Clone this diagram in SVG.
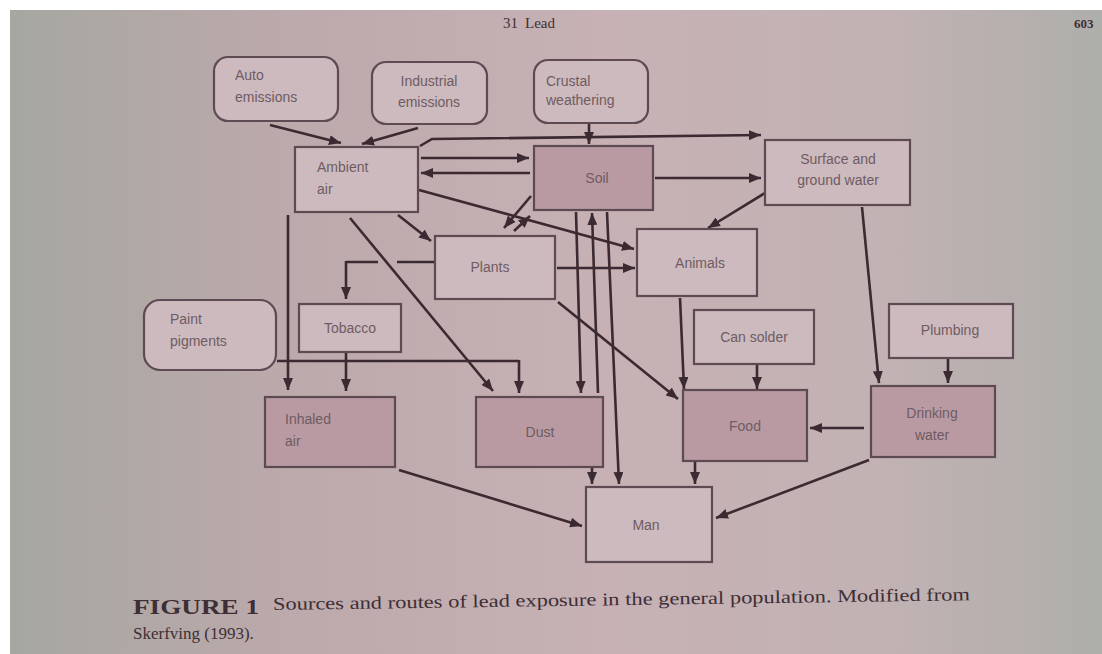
<svg xmlns="http://www.w3.org/2000/svg" width="1102" height="654" viewBox="0 0 1102 654">
<defs>
<linearGradient id="page" x1="0" y1="0" x2="1" y2="0">
<stop offset="0" stop-color="#a6a7a1"/>
<stop offset="0.25" stop-color="#bca9ab"/>
<stop offset="0.55" stop-color="#c7b1b5"/>
<stop offset="0.8" stop-color="#c2b2b3"/>
<stop offset="1" stop-color="#aeaeaa"/>
</linearGradient>
<marker id="ah" viewBox="0 0 12 10" refX="12" refY="5" markerWidth="12" markerHeight="10" markerUnits="userSpaceOnUse" orient="auto">
<path d="M0,0 L12,5 L0,10 Z" fill="#3b2a31"/>
</marker>
<style>
.box{fill:#cdbabe;stroke:#5e4a52;stroke-width:2.2}
.dark{fill:#b99aa2;stroke:#5e4a52;stroke-width:2.2}
.src{fill:#cdbabe;stroke:#5e4a52;stroke-width:2.2}
.lbl{font-family:"Liberation Sans",Arial,sans-serif;font-size:14px;fill:#6e5c63}
.ln{fill:none;stroke:#3b2a31;stroke-width:2.6}
.arr{fill:none;stroke:#3b2a31;stroke-width:2.6;marker-end:url(#ah)}
.cap{font-family:"Liberation Serif","Times New Roman",serif;fill:#3d2f35}
</style>
</defs>
<rect x="0" y="0" width="1102" height="654" fill="#ffffff"/>
<rect x="10" y="10" width="1092" height="644" fill="url(#page)"/>
<text class="cap" x="503" y="28" font-size="15">31</text>
<text class="cap" x="525" y="28" font-size="15">Lead</text>
<text class="cap" x="1074" y="28" font-size="13" font-weight="bold">603</text>

<g id="connectors">
<path class="arr" d="M270,125 L341,143"/>
<path class="arr" d="M418,128 L362,144"/>
<path class="arr" d="M589,123 L589,144"/>
<path class="arr" d="M420,146 L432,139 L761,135"/>
<path class="arr" d="M421,158 L529,158"/>
<path class="arr" d="M530,173 L421,173"/>
<path class="arr" d="M655,178 L761,178"/>
<path class="arr" d="M419,190 L634,249"/>
<path class="arr" d="M531,196 L504,228"/>
<path class="arr" d="M514,231 L530,216"/>
<path class="arr" d="M398,215 L431,241"/>
<path class="arr" d="M350,218 L493,391"/>
<path class="arr" d="M288,215 L288,390"/>
<path class="ln" d="M435,262 L397,262 M378,262 L346,262"/>
<path class="arr" d="M346,261 L346,299"/>
<path class="arr" d="M346,353 L346,391"/>
<path class="ln" d="M277,361 L519,361"/>
<path class="arr" d="M519,360 L519,393"/>
<path class="arr" d="M576,212 L581,393"/>
<path class="arr" d="M598,393 L592,213"/>
<path class="arr" d="M607,212 L619,484"/>
<path class="arr" d="M592,467 L592,484"/>
<path class="arr" d="M695,462 L695,484"/>
<path class="arr" d="M557,268 L635,268"/>
<path class="arr" d="M558,302 L678,399"/>
<path class="arr" d="M680,298 L684,389"/>
<path class="arr" d="M757,365 L757,389"/>
<path class="arr" d="M765,193 L708,228"/>
<path class="arr" d="M862,207 L879,383"/>
<path class="arr" d="M948,359 L948,383"/>
<path class="arr" d="M864,428 L810,428"/>
<path class="arr" d="M869,460 L716,518"/>
<path class="arr" d="M399,470 L582,526"/>
</g>

<g id="auto-emissions"><rect class="src" x="214" y="57" width="124" height="64" rx="14"/><text class="lbl" x="235" y="80">Auto</text><text class="lbl" x="235" y="102">emissions</text></g>
<g id="industrial-emissions"><rect class="src" x="372" y="62" width="115" height="62" rx="14"/><text class="lbl" x="429" y="86" text-anchor="middle">Industrial</text><text class="lbl" x="429" y="107" text-anchor="middle">emissions</text></g>
<g id="crustal-weathering"><rect class="src" x="534" y="60" width="114" height="63" rx="14"/><text class="lbl" x="546" y="86">Crustal</text><text class="lbl" x="546" y="105">weathering</text></g>
<g id="ambient-air"><rect class="box" x="295" y="147" width="123" height="65"/><text class="lbl" x="317" y="172">Ambient</text><text class="lbl" x="317" y="194">air</text></g>
<g id="soil"><rect class="dark" x="534" y="146" width="119" height="64"/><text class="lbl" x="597" y="183" text-anchor="middle">Soil</text></g>
<g id="surface-water"><rect class="box" x="765" y="140" width="145" height="65"/><text class="lbl" x="838" y="164" text-anchor="middle">Surface and</text><text class="lbl" x="838" y="185" text-anchor="middle">ground water</text></g>
<g id="plants"><rect class="box" x="435" y="236" width="120" height="63"/><text class="lbl" x="490" y="272" text-anchor="middle">Plants</text></g>
<g id="animals"><rect class="box" x="637" y="229" width="120" height="67"/><text class="lbl" x="700" y="268" text-anchor="middle">Animals</text></g>
<g id="tobacco"><rect class="box" x="299" y="304" width="102" height="48"/><text class="lbl" x="350" y="333" text-anchor="middle">Tobacco</text></g>
<g id="paint-pigments"><rect class="src" x="144" y="300" width="132" height="70" rx="16"/><text class="lbl" x="170" y="324">Paint</text><text class="lbl" x="170" y="346">pigments</text></g>
<g id="can-solder"><rect class="box" x="694" y="310" width="120" height="54"/><text class="lbl" x="754" y="342" text-anchor="middle">Can solder</text></g>
<g id="plumbing"><rect class="box" x="889" y="304" width="124" height="54"/><text class="lbl" x="950" y="335" text-anchor="middle">Plumbing</text></g>
<g id="inhaled-air"><rect class="dark" x="265" y="397" width="130" height="70"/><text class="lbl" x="285" y="424">Inhaled</text><text class="lbl" x="285" y="446">air</text></g>
<g id="dust"><rect class="dark" x="476" y="397" width="127" height="70"/><text class="lbl" x="540" y="437" text-anchor="middle">Dust</text></g>
<g id="food"><rect class="dark" x="683" y="390" width="124" height="71"/><text class="lbl" x="745" y="431" text-anchor="middle">Food</text></g>
<g id="drinking-water"><rect class="dark" x="871" y="386" width="124" height="71"/><text class="lbl" x="932" y="418" text-anchor="middle">Drinking</text><text class="lbl" x="932" y="440" text-anchor="middle">water</text></g>
<g id="man"><rect class="box" x="586" y="487" width="126" height="75"/><text class="lbl" x="646" y="530" text-anchor="middle">Man</text></g>

<text class="cap" x="133" y="614" font-size="20" font-weight="bold" textLength="126" lengthAdjust="spacingAndGlyphs">FIGURE 1</text>
<text class="cap" x="273" y="610" font-size="18" textLength="697" lengthAdjust="spacingAndGlyphs" transform="rotate(-0.8 273 610)">Sources and routes of lead exposure in the general population. Modified from</text>
<text class="cap" x="133" y="639" font-size="17">Skerfving (1993).</text>
</svg>
